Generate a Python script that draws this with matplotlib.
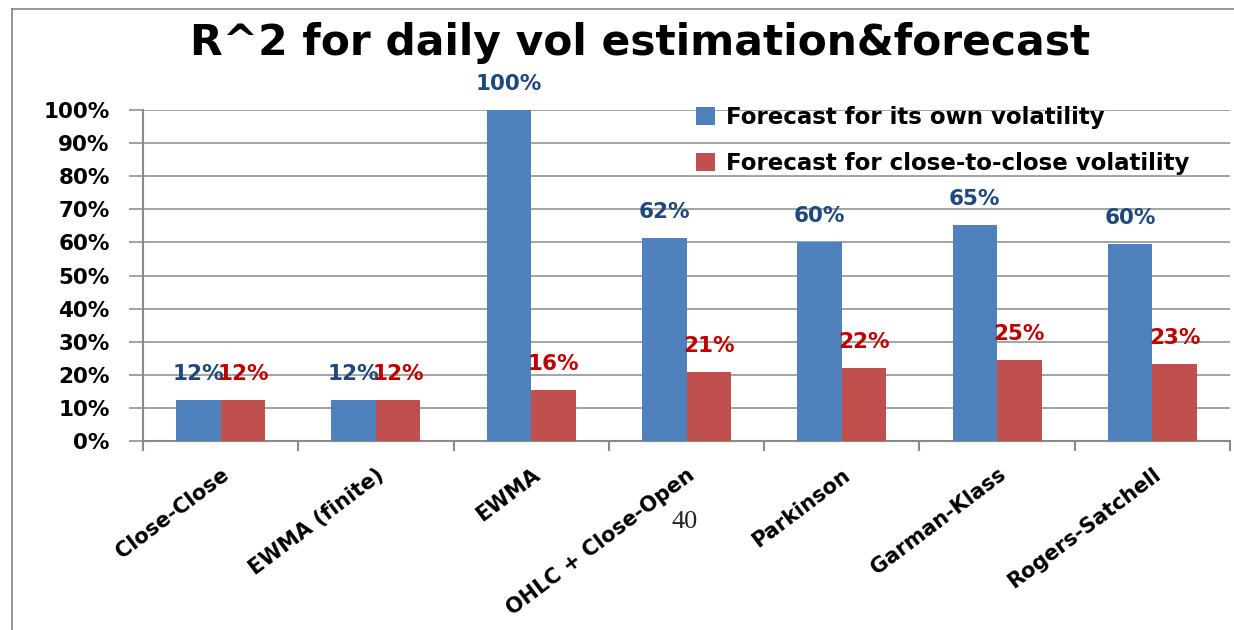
import matplotlib
matplotlib.use("Agg")
import matplotlib.pyplot as plt
import numpy as np
from matplotlib.lines import Line2D

categories = ["Close-Close", "EWMA (finite)", "EWMA", "OHLC + Close-Open",
              "Parkinson", "Garman-Klass", "Rogers-Satchell"]
own_vol = [12.4, 12.4, 100.0, 61.4, 60.1, 65.3, 59.5]
own_labels = ["12%", "12%", "100%", "62%", "60%", "65%", "60%"]
cc_vol = [12.4, 12.4, 15.5, 20.9, 22.1, 24.5, 23.2]
cc_labels = ["12%", "12%", "16%", "21%", "22%", "25%", "23%"]
yticks = [0, 10, 20, 30, 40, 50, 60, 70, 80, 90, 100]
ytick_labels = [f"{v}%" for v in yticks]
series_names = ["Forecast for its own volatility", "Forecast for close-to-close volatility"]
title = "R^2 for daily vol estimation&forecast"

FONT = "DejaVu Sans"
BLUE = "#4F81BD"
RED = "#C0504D"
GRID = "#8A8A8A"

fig = plt.figure(figsize=(12.34, 6.30), dpi=100)
ax = fig.add_axes([143/1234, 1-441/630, (1230-143)/1234, (441-110)/630])

x = np.arange(len(categories))
w = 0.287
ax.bar(x - w/2, own_vol, w, color=BLUE, label=series_names[0], zorder=3)
ax.bar(x + w/2, cc_vol, w, color=RED, label=series_names[1], zorder=3)

for xi, v, lab in zip(x, own_vol, own_labels):
    ax.text(xi - w/2, v + 7.8, lab, ha="center", va="center", color="#1F497D",
            fontsize=15.5, fontweight="bold", family=FONT, zorder=4)
for xi, v, lab in zip(x, cc_vol, cc_labels):
    ax.text(xi + w/2, v + 7.8, lab, ha="center", va="center", color="#C00000",
            fontsize=15.5, fontweight="bold", family=FONT, zorder=4)

ax.set_xlim(-0.5, len(categories) - 0.5)
ax.set_ylim(0, 100)
ax.set_yticks(yticks)
ax.set_yticklabels(ytick_labels, fontsize=15.5, fontweight="bold", family=FONT)
ax.yaxis.grid(True, color=GRID, linewidth=1.1, zorder=0)
ax.tick_params(axis="y", length=10, width=1.1, color=GRID, pad=14)

ax.set_xticks(x)
ax.set_xticklabels(categories, rotation=37, ha="right", rotation_mode="anchor",
                   fontsize=15, fontweight="bold", family=FONT)
ax.tick_params(axis="x", which="major", length=0, pad=17)
ax.set_xticks(np.arange(len(categories) + 1) - 0.5, minor=True)
ax.tick_params(axis="x", which="minor", length=7, width=1.5, color=GRID)

for s in ["top", "right"]:
    ax.spines[s].set_visible(False)
for s in ["left", "bottom"]:
    ax.spines[s].set_color(GRID)
    ax.spines[s].set_linewidth(1.5)
ax.set_axisbelow(True)

ax.legend(loc="upper left", bbox_to_anchor=(0.49, 1.074), frameon=False,
          prop={"family": FONT, "weight": "bold", "size": 16.5},
          handlelength=0.8, handleheight=0.8, labelspacing=1.0, handletextpad=0.5)

fig.text(640/1234, 1-43/630, title, ha="center", va="center",
         fontsize=30.5, fontweight="bold", family=FONT)
fig.text(685/1234, 1-522/630, "40", ha="center", va="center",
         fontsize=19, family="Liberation Serif", color="#222222")

bx, by = 12/1234, 1 - 9/630
fig.add_artist(Line2D([bx, bx], [0, by], transform=fig.transFigure,
                      color="#8C8C8C", linewidth=1.3))
fig.add_artist(Line2D([bx, 1.0], [by, by], transform=fig.transFigure,
                      color="#8C8C8C", linewidth=1.3))

fig.savefig("out.png", dpi=100)
